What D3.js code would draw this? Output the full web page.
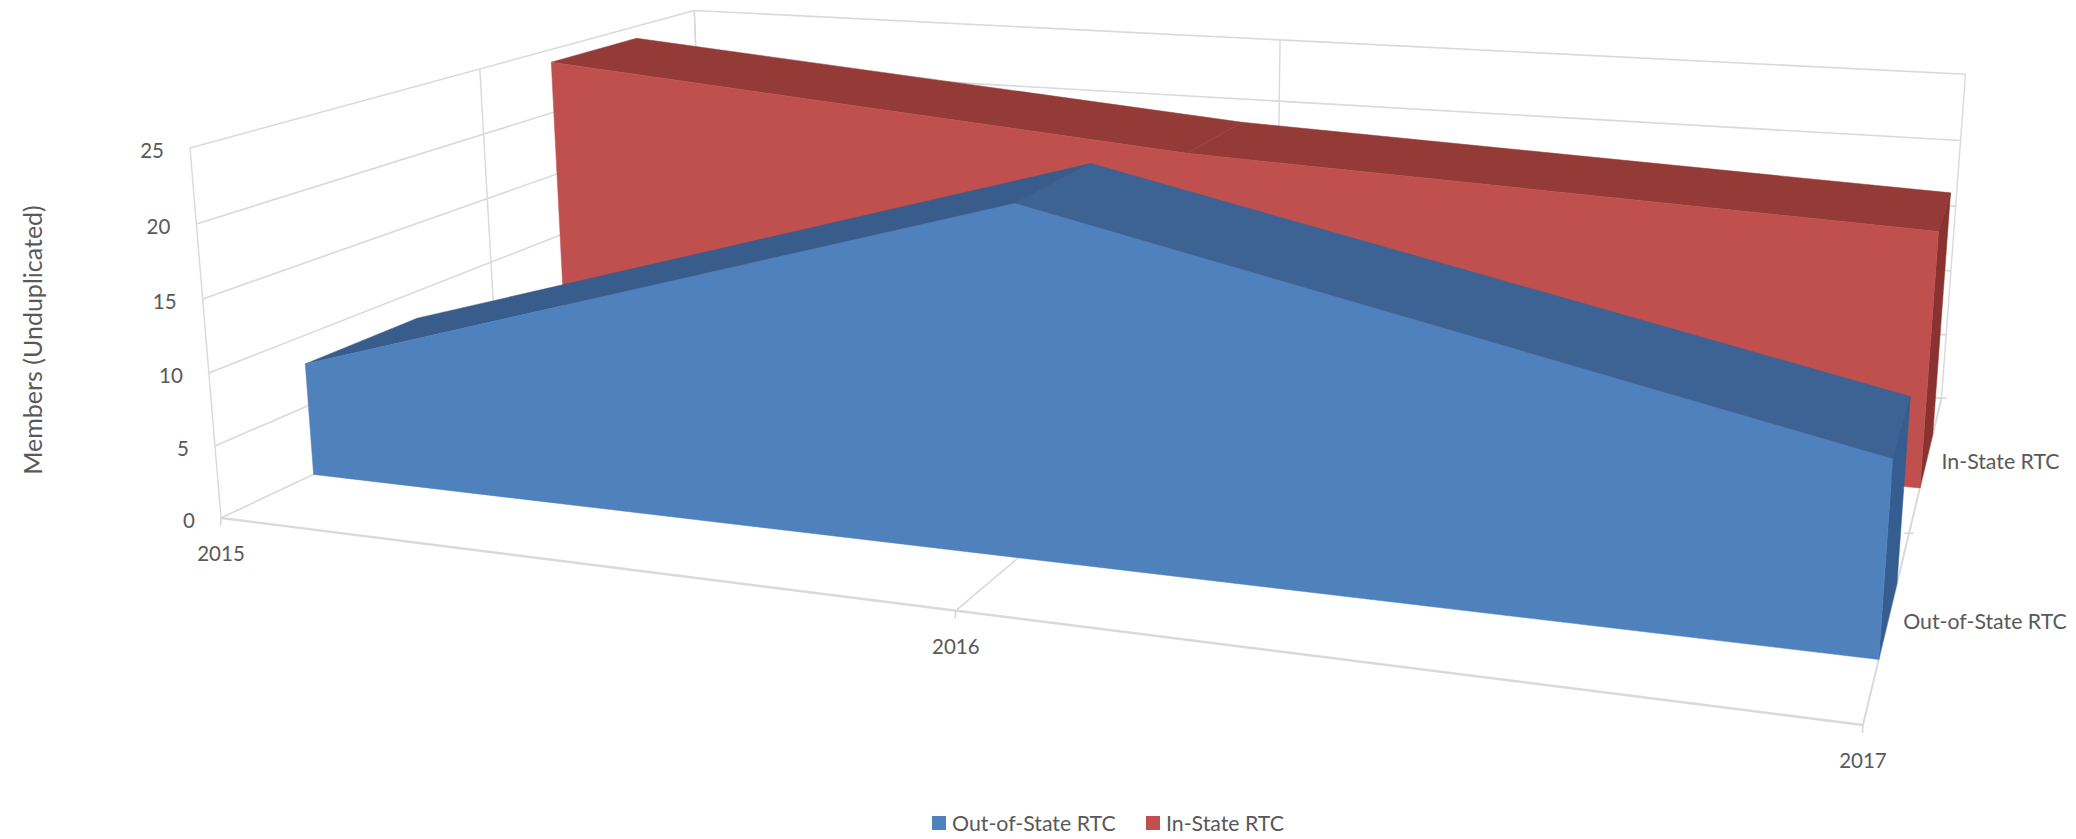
<!DOCTYPE html>
<html>
<head>
<meta charset="utf-8">
<script src="https://cdnjs.cloudflare.com/ajax/libs/d3/7.8.5/d3.min.js"></script>
<style>
body { margin: 0; background: white; }
text { font-family: Lato, "Open Sans", sans-serif; fill: #595959; }
</style>
</head>
<body>
<script>
var years = ["2015", "2016", "2017"];
var seriesNames = ["Out-of-State RTC", "In-State RTC"];
var outOfState = [8, 23, 12];
var inState = [24, 20, 18];
var valueTicks = [0, 5, 10, 15, 20, 25];

var w = 2076;
var h = 839;

var gridColor = "#d9d9d9";
var numberSize = 20.5;
var nameSize = 21.3;
var styles = {
    "Out-of-State RTC": { front: "#4f81bd", tops: ["#385c8b", "#3d6395"], side: "#365d8f" },
    "In-State RTC": { front: "#c0504d", tops: ["#943b38", "#943b38"], side: "#8a3230" }
};

// Unit box -> screen. u runs along the years, v up the values, d into the depth
function project(u, v, d) {
    var hx = 221 + 1288 * u - 37.27 * v + 723.7 * d;
    var hy = 518 + 69.25 * u - 374.9 * v - 129.4 * d;
    var hw = 1 - 0.19 * u - 0.033 * v + 0.34 * d;
    return [hx / hw, hy / hw];
}

var x_scale = d3.scalePoint().domain(years).range([0, 1]);
var y_scale = d3.scaleLinear().domain([0, 25]).range([0, 1]);
var z_scale = d3.scaleBand().domain(seriesNames).range([0, 1]).paddingInner(0.6).paddingOuter(0.3);

var path = d3.line();

var svg = d3.select("body")
            .append("svg")
            .attr("width", w)
            .attr("height", h)
            .style("display", "block");

function segment(a, b, width) {
    svg.append("path")
        .attr("d", path([a, b]))
        .attr("fill", "none")
        .attr("stroke", gridColor)
        .attr("stroke-width", width);
}

// Side wall and back wall
valueTicks.forEach(function(t) {
    var v = y_scale(t);
    segment(project(0, v, 0), project(0, v, 1), 1.6);
    segment(project(0, v, 1), project(1, v, 1), 1.6);
});
[0, 0.5, 1].forEach(function(d) {
    segment(project(0, 0, d), project(0, 1, d), 1.4);
});
years.forEach(function(year) {
    segment(project(x_scale(year), 0, 1), project(x_scale(year), 1, 1), 1.4);
});

// Floor edges, grid and ticks
segment(project(0, 0, 0), project(1, 0, 0), 2.4);
segment(project(1, 0, 0), project(1, 0, 1), 2);
segment(project(0.5, 0, 0), project(0.5, 0, 1), 1.6);
years.forEach(function(year) {
    var p = project(x_scale(year), 0, 0);
    segment(p, [p[0] - 0.5, p[1] + 8], 1.6);
});
[0.5, 1].forEach(function(d) {
    var p = project(1, 0, d);
    segment([p[0] - 5, p[1]], [p[0] + 5, p[1]], 1.6);
});

function polygon(points, fill) {
    svg.append("path")
        .attr("d", path(points) + "Z")
        .attr("fill", fill)
        .attr("stroke", fill)
        .attr("stroke-width", 0.5);
}

function drawArea(name, values) {
    var near = z_scale(name);
    var far = near + z_scale.bandwidth();
    var style = styles[name];
    var us = years.map(function(year) { return x_scale(year); });
    var vs = values.map(function(value) { return y_scale(value); });

    // top faces, one for each stretch between two years
    for (var i = 0; i < us.length - 1; ++i) {
        polygon([
            project(us[i], vs[i], near),
            project(us[i], vs[i], far),
            project(us[i + 1], vs[i + 1], far),
            project(us[i + 1], vs[i + 1], near)
        ], style.tops[i]);
    }

    // end cap on the 2017 side
    var last = us.length - 1;
    polygon([
        project(us[last], vs[last], near),
        project(us[last], vs[last], far),
        project(us[last], 0, far),
        project(us[last], 0, near)
    ], style.side);

    var front = us.map(function(u, i) { return project(u, vs[i], near); });
    front.push(project(us[last], 0, near));
    front.push(project(us[0], 0, near));
    polygon(front, style.front);
}

drawArea("In-State RTC", inState);
drawArea("Out-of-State RTC", outOfState);

// Value axis labels
svg.selectAll(".value-label")
    .data(valueTicks)
    .enter()
    .append("text")
    .attr("class", "value-label")
    .attr("x", function(d) { return project(0, y_scale(d), 0)[0] - 26; })
    .attr("y", function(d) { return project(0, y_scale(d), 0)[1] + 2; })
    .attr("text-anchor", "end")
    .attr("dominant-baseline", "central")
    .attr("font-size", numberSize)
    .text(function(d) { return d; });

// Year labels
svg.selectAll(".year-label")
    .data(years)
    .enter()
    .append("text")
    .attr("class", "year-label")
    .attr("x", function(d) { return project(x_scale(d), 0, 0)[0]; })
    .attr("y", function(d) { return project(x_scale(d), 0, 0)[1] + 35; })
    .attr("text-anchor", "middle")
    .attr("dominant-baseline", "central")
    .attr("font-size", numberSize)
    .text(function(d) { return d; });

// Series labels along the depth axis
svg.selectAll(".series-label")
    .data(seriesNames)
    .enter()
    .append("text")
    .attr("class", "series-label")
    .attr("x", function(d) { return project(1, 0, z_scale(d) + z_scale.bandwidth() / 2)[0] + 15; })
    .attr("y", function(d) { return project(1, 0, z_scale(d) + z_scale.bandwidth() / 2)[1] + 1; })
    .attr("dominant-baseline", "central")
    .attr("font-size", nameSize)
    .text(function(d) { return d; });

svg.append("text")
    .attr("transform", "translate(32,340) rotate(-90)")
    .attr("text-anchor", "middle")
    .attr("dominant-baseline", "central")
    .attr("font-size", 25)
    .text("Members (Unduplicated)");

// Legend
var legendX = { "Out-of-State RTC": 932, "In-State RTC": 1146 };
seriesNames.forEach(function(name) {
    svg.append("rect")
        .attr("x", legendX[name])
        .attr("y", 816)
        .attr("width", 14)
        .attr("height", 14)
        .attr("fill", styles[name].front);
    svg.append("text")
        .attr("x", legendX[name] + 20)
        .attr("y", 823)
        .attr("dominant-baseline", "central")
        .attr("font-size", nameSize)
        .text(name);
});
</script>
</body>
</html>
